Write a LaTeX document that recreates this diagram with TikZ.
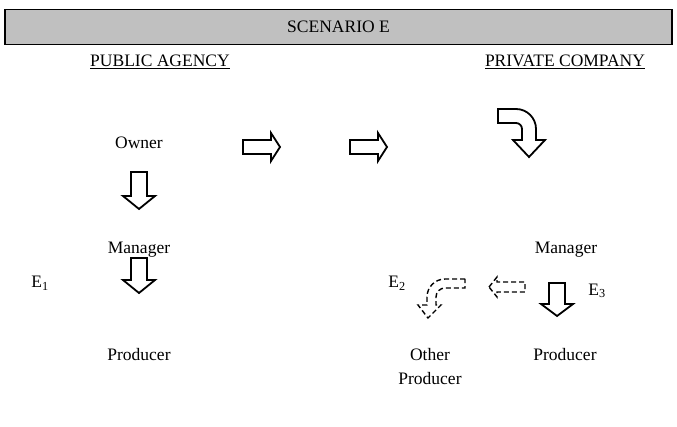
\documentclass[tikz,border=0pt]{standalone}
\usepackage{fontspec}
\setmainfont{Liberation Serif}
\usetikzlibrary{positioning}
\definecolor{banner}{RGB}{192,192,192}
\tikzset{
  lbl/.style={font=\fontsize{17.5}{24}\selectfont, inner sep=1pt, align=center},
  blockarrow/.style={draw, line width=1.8pt, line join=miter, fill=white},
  dasharrow/.style={blockarrow, line width=1.4pt, dash pattern=on 5pt off 3pt},
}
\begin{document}
\begin{tikzpicture}[x=1pt,y=-1pt]
\useasboundingbox (0,0) rectangle (677,427);

\node (title) [lbl, draw, line width=1.6pt, fill=banner, minimum width=667pt, minimum height=35pt] at (338.5,27) {SCENARIO E};
\node (public) [lbl] at (160,62) {\underline{PUBLIC AGENCY}};
\node (private) [lbl] at (565,62) {\underline{PRIVATE COMPANY}};

\node (owner) [lbl] at (139,143) {Owner};
\node (managerA) [lbl] at (139,250) {Manager};
\node (producerA) [lbl] at (139,355) {Producer};
\node (eone) [lbl] at (40,283) {E\textsubscript{1}};

\node (managerB) [lbl] at (566,250) {Manager};
\node (producerB) [lbl] at (565,355) {Producer};
\node (otherprod) [lbl] at (430,367) {Other\\Producer};
\node (etwo) [lbl] at (397,283) {E\textsubscript{2}};
\node (ethree) [lbl] at (597,291) {E\textsubscript{3}};

% down arrows
\draw [blockarrow, shift={(139,172)}] (-8,0) -- (8,0) -- (8,24) -- (16,24) -- (0,37) -- (-16,24) -- (-8,24) -- cycle;
\draw [blockarrow, shift={(139,258)}] (-8,0) -- (8,0) -- (8,22) -- (16,22) -- (0,35) -- (-16,22) -- (-8,22) -- cycle;
\draw [blockarrow, shift={(557,283)}] (-8,0) -- (8,0) -- (8,21) -- (16,21) -- (0,33) -- (-16,21) -- (-8,21) -- cycle;

% right arrows
\draw [blockarrow, shift={(243,147)}] (0,-7) -- (28,-7) -- (28,-14) -- (37,0) -- (28,14) -- (28,7) -- (0,7) -- cycle;
\draw [blockarrow, shift={(350,147)}] (0,-7) -- (28,-7) -- (28,-14) -- (37,0) -- (28,14) -- (28,7) -- (0,7) -- cycle;

% curved arrow
\draw [blockarrow] (498,109) -- (516,109) arc [start angle=-90, end angle=0, radius=20] -- (536,140)
  -- (545,140) -- (529,157) -- (513,140) -- (522,140) -- (522,129)
  arc [start angle=0, end angle=-90, radius=6] -- (498,123) -- cycle;

% dashed arrows
\draw [dasharrow] (465,279) -- (445,279) arc [start angle=-90, end angle=-180, radius=18] -- (427,305)
  -- (418,305) -- (428,318) -- (441,305) -- (436,305) -- (436,297)
  arc [start angle=-180, end angle=-90, radius=9] -- (465,288) -- cycle;
\draw [dasharrow, shift={(489,287)}] (0,0) -- (8,-10) -- (8,-5) -- (36,-5) -- (36,5) -- (8,5) -- (8,10) -- cycle;

\end{tikzpicture}
\end{document}
